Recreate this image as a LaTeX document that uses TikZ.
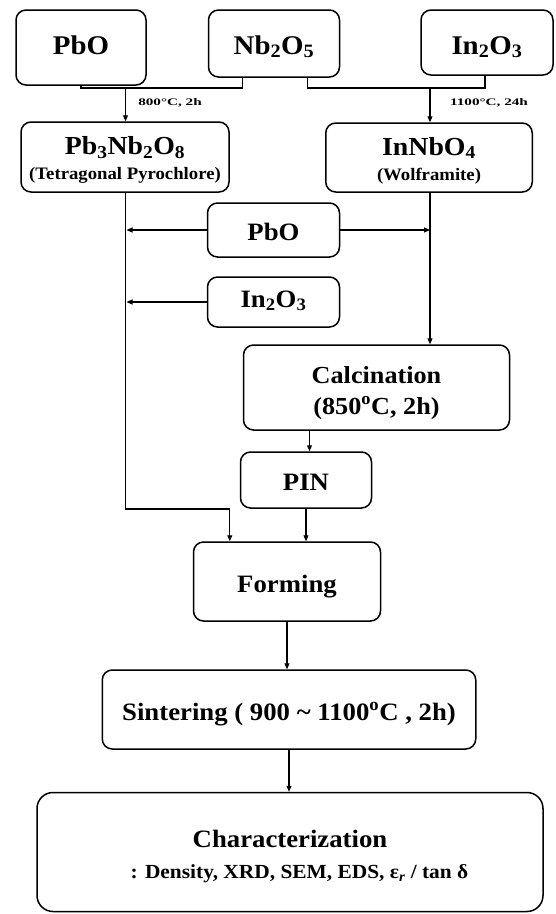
\documentclass[tikz,border=0pt]{standalone}
\usepackage{fontspec}
\setmainfont{Liberation Serif}[FakeStretch=1.07]
\usetikzlibrary{arrows.meta}
\begin{document}
\begin{tikzpicture}[x=1pt,y=-1pt,
  box/.style={draw, line width=1.5pt, rounded corners=10pt, align=center, inner sep=0pt},
  conn/.style={line width=1.1pt},
  arr/.style={conn, -{Triangle[length=6pt,width=5pt]}},
  fbig/.style={font=\bfseries\fontsize{27}{30}\selectfont},
  fmid/.style={font=\bfseries\fontsize{25}{30}\selectfont},
  fsub/.style={font=\bfseries\fontsize{17.5}{25}\selectfont},
  th/.style={text height=#1, text depth=0pt},
  lbl/.style={inner sep=0pt, font=\bfseries\fontsize{10}{12}\selectfont},
]
\useasboundingbox (0,0) rectangle (555,914);

% top row
\node[box, fbig, text height=18pt, text depth=5pt, minimum width=130pt, minimum height=75pt] (pbo) at (81,47.5) {PbO};
\node[box, fbig, th=21pt, minimum width=131pt, minimum height=67pt] (nb) at (274,43.5) {Nb\textsubscript{2}O\textsubscript{5}};
\node[box, fbig, th=23pt, minimum width=132pt, minimum height=65pt] (ino) at (487,42.5) {In\textsubscript{2}O\textsubscript{3}};

% intermediate compounds
\node[box, fsub, th=45pt, minimum width=208pt, minimum height=70pt] (pb3) at (125,157)
  {{\fontsize{26}{25}\selectfont Pb\textsubscript{3}Nb\textsubscript{2}O\textsubscript{8}}\\(Tetragonal Pyrochlore)};
\node[box, fsub, th=45pt, minimum width=206.5pt, minimum height=69pt] (innb) at (429,157.5)
  {{\fontsize{26}{25}\selectfont InNbO\textsubscript{4}}\\(Wolframite)};

% additives
\node[box, fmid, th=20pt, minimum width=132pt, minimum height=54pt] (pbo2) at (273.5,230) {PbO};
\node[box, fmid, th=10pt, minimum width=132pt, minimum height=50pt] (in2) at (273.5,302) {In\textsubscript{2}O\textsubscript{3}};

% process steps
\node[box, font=\bfseries\fontsize{24.5}{31}\selectfont, th=53pt, minimum width=266pt, minimum height=85pt] (calc) at (376.5,387.5)
  {Calcination\\(850\textsuperscript{o}C, 2h)};
\node[box, fmid, th=20pt, minimum width=131pt, minimum height=56pt] (pin) at (306,480) {PIN};
\node[box, fmid, th=21pt, minimum width=187pt, minimum height=79pt] (form) at (287,581.5) {Forming};
\node[box, fmid, th=21pt, minimum width=373.5pt, minimum height=79pt] (sint) at (289,709.5)
  {Sintering ( 900 \textasciitilde{} 1100\textsuperscript{o}C , 2h)};
\node[box, rounded corners=16pt, font=\bfseries\fontsize{20}{31}\selectfont, th=52pt, minimum width=506pt, minimum height=119pt] (char) at (290,852)
  {{\fontsize{25}{31}\selectfont Characterization}\\\hspace*{19pt}: Density, XRD, SEM, EDS, ε\textsubscript{\itshape r} / tan δ};

% labels
\node[lbl] (l1) at (170,103) {\scalebox{1.42}[1]{800°C, 2h}};
\node[lbl] (l2) at (489,103) {\scalebox{1.42}[1]{1100°C, 24h}};

% connectors
\coordinate (j1) at (125.5,88);
\coordinate (j2) at (430,88);
\coordinate (j3) at (229.8,509);
\draw[conn] (pbo.south) |- (j1) -| ([xshift=-31.5pt]nb.south);
\draw[arr] (j1) -- (j1 |- pb3.north);
\draw[conn] ([xshift=33.5pt]nb.south) |- (j2) -| ([xshift=-2pt]ino.south);
\draw[arr] (j2) -- (j2 |- innb.north);

\draw[arr] (j1 |- pb3.south) |- (j3) -- (j3 |- form.north);
\draw[arr] (pbo2.west) -- ([xshift=1pt]pbo2.west -| j1);
\draw[arr] (pbo2.east) -- (pbo2.east -| j2);
\draw[arr] (in2.west) -- ([xshift=1pt]in2.west -| j1);
\draw[arr] (j2 |- innb.south) -- (j2 |- calc.north);
\draw[arr] ([xshift=3.5pt]pin.north |- calc.south) -- ([xshift=3.5pt]pin.north);
\draw[arr] (pin.south) -- (pin.south |- form.north);
\draw[arr] (form.south) -- (form.south |- sint.north);
\draw[arr] (sint.south) -- (sint.south |- char.north);
\end{tikzpicture}
\end{document}
